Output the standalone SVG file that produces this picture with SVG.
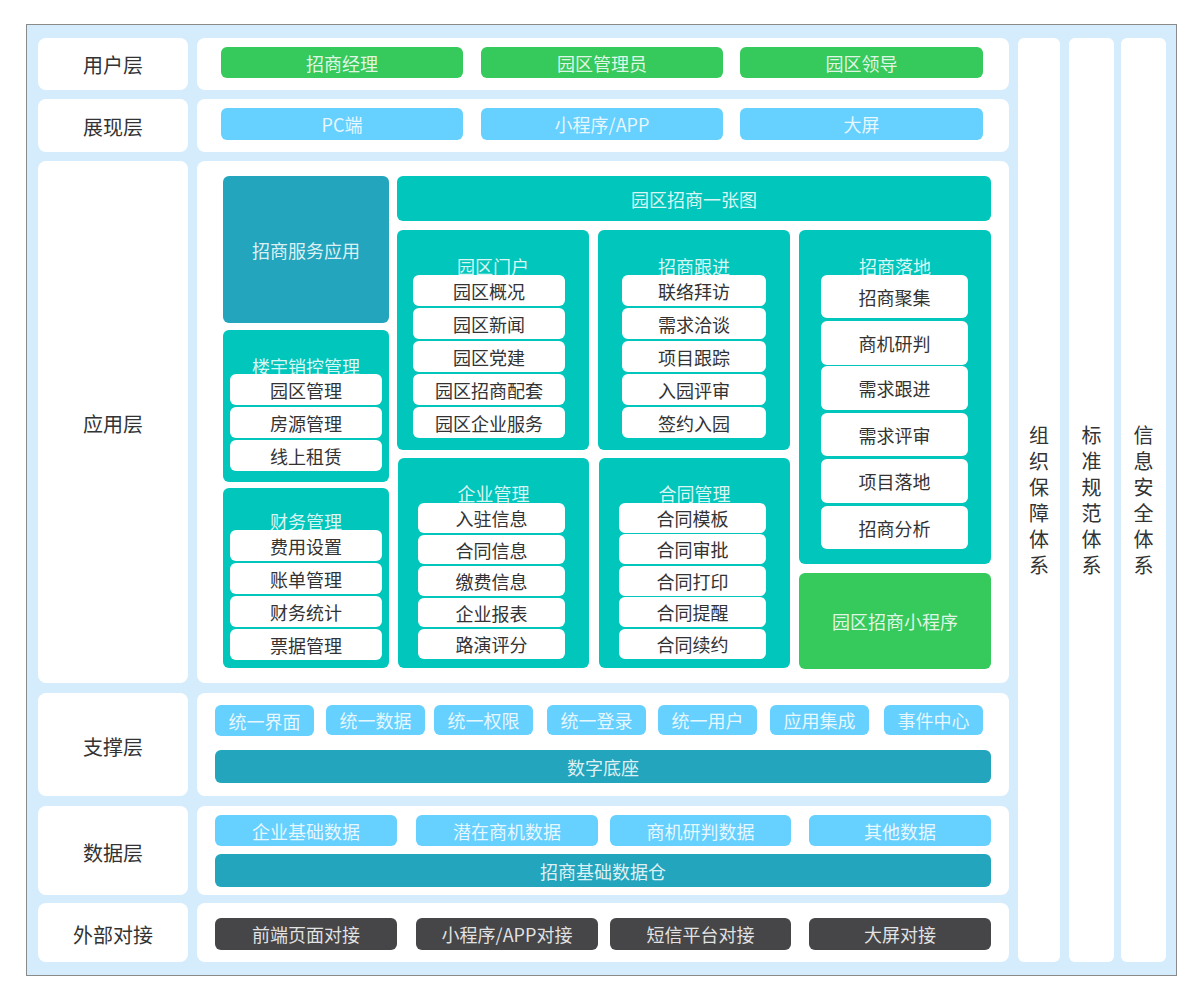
<svg xmlns="http://www.w3.org/2000/svg" width="1204" height="1005" viewBox="0 0 1204 1005" font-family="'Noto Sans CJK SC', 'Microsoft YaHei', sans-serif">
<style>
.bg{fill:#d5ecfd;stroke:#8a8a8a;stroke-width:1}
.pn{fill:#ffffff}
.g{fill:#36c95b}
.b{fill:#66d0fe}
.t{fill:#00c6bc}
.d{fill:#22a5bd}
.k{fill:#464648}
.w{fill:#ffffff}
text{text-anchor:middle;dominant-baseline:central}
.lb{fill:#333333;font-size:20px}
.lt{fill:#ffffff;fill-opacity:0.86;font-size:18px}
.dk{fill:#333333;font-size:18px}
.vt{fill:#333333;font-size:20px;writing-mode:tb;letter-spacing:6px}
</style>
<rect class="bg" x="26.5" y="24.5" width="1150" height="951"/>

<g id="labels">
<g id="lbl-user"><rect class="pn" x="38" y="38" width="150" height="52" rx="8"/><text class="lb" x="113" y="64">用户层</text></g>
<g id="lbl-view"><rect class="pn" x="38" y="99" width="150" height="53" rx="8"/><text class="lb" x="113" y="126">展现层</text></g>
<g id="lbl-app"><rect class="pn" x="38" y="161" width="150" height="522" rx="8"/><text class="lb" x="113" y="423">应用层</text></g>
<g id="lbl-support"><rect class="pn" x="38" y="693" width="150" height="103" rx="8"/><text class="lb" x="113" y="746">支撑层</text></g>
<g id="lbl-data"><rect class="pn" x="38" y="806" width="150" height="89" rx="8"/><text class="lb" x="113" y="852">数据层</text></g>
<g id="lbl-ext"><rect class="pn" x="38" y="903" width="150" height="59" rx="8"/><text class="lb" x="113" y="934">外部对接</text></g>
</g>

<g id="panels">
<rect class="pn" x="197" y="38" width="812" height="52" rx="8"/>
<rect class="pn" x="197" y="99" width="812" height="53" rx="8"/>
<rect class="pn" x="197" y="161" width="812" height="522" rx="8"/>
<rect class="pn" x="197" y="693" width="812" height="103" rx="8"/>
<rect class="pn" x="197" y="806" width="812" height="89" rx="8"/>
<rect class="pn" x="197" y="903" width="812" height="59" rx="8"/>
</g>

<g id="user-layer">
<g id="u1"><rect class="g" x="221" y="47" width="242" height="31" rx="6"/><text class="lt" x="342" y="62.5">招商经理</text></g>
<g id="u2"><rect class="g" x="481" y="47" width="242" height="31" rx="6"/><text class="lt" x="602" y="62.5">园区管理员</text></g>
<g id="u3"><rect class="g" x="740" y="47" width="243" height="31" rx="6"/><text class="lt" x="861.5" y="62.5">园区领导</text></g>
</g>

<g id="view-layer">
<g id="v1"><rect class="b" x="221" y="108" width="242" height="32" rx="6"/><text class="lt" x="342" y="124">PC端</text></g>
<g id="v2"><rect class="b" x="481" y="108" width="242" height="32" rx="6"/><text class="lt" x="602" y="124">小程序/APP</text></g>
<g id="v3"><rect class="b" x="740" y="108" width="243" height="32" rx="6"/><text class="lt" x="861.5" y="124">大屏</text></g>
</g>

<g id="app-layer">
<g id="a-service"><rect class="d" x="223" y="176" width="166" height="147" rx="6"/><text class="lt" x="306" y="249.5">招商服务应用</text></g>
<g id="a-map"><rect class="t" x="397" y="176" width="594" height="45" rx="6"/><text class="lt" x="694" y="198.5">园区招商一张图</text></g>

<g id="a-portal"><rect class="t" x="397" y="230" width="192" height="220" rx="6"/><text class="lt" x="493" y="266">园区门户</text>
<rect class="w" x="413" y="275" width="152" height="31" rx="6"/><text class="dk" x="489" y="290.5">园区概况</text>
<rect class="w" x="413" y="308" width="152" height="31" rx="6"/><text class="dk" x="489" y="323.5">园区新闻</text>
<rect class="w" x="413" y="341" width="152" height="31" rx="6"/><text class="dk" x="489" y="356.5">园区党建</text>
<rect class="w" x="413" y="374" width="152" height="31" rx="6"/><text class="dk" x="489" y="389.5">园区招商配套</text>
<rect class="w" x="413" y="407" width="152" height="31" rx="6"/><text class="dk" x="489" y="422.5">园区企业服务</text>
</g>

<g id="a-follow"><rect class="t" x="598" y="230" width="192" height="220" rx="6"/><text class="lt" x="694" y="266">招商跟进</text>
<rect class="w" x="622" y="275" width="144" height="31" rx="6"/><text class="dk" x="694" y="290.5">联络拜访</text>
<rect class="w" x="622" y="308" width="144" height="31" rx="6"/><text class="dk" x="694" y="323.5">需求洽谈</text>
<rect class="w" x="622" y="341" width="144" height="31" rx="6"/><text class="dk" x="694" y="356.5">项目跟踪</text>
<rect class="w" x="622" y="374" width="144" height="31" rx="6"/><text class="dk" x="694" y="389.5">入园评审</text>
<rect class="w" x="622" y="407" width="144" height="31" rx="6"/><text class="dk" x="694" y="422.5">签约入园</text>
</g>

<g id="a-landing"><rect class="t" x="799" y="230" width="192" height="334" rx="6"/><text class="lt" x="895" y="266">招商落地</text>
<rect class="w" x="821" y="275" width="147" height="43" rx="6"/><text class="dk" x="894.5" y="296.5">招商聚集</text>
<rect class="w" x="821" y="321" width="147" height="44" rx="6"/><text class="dk" x="894.5" y="343">商机研判</text>
<rect class="w" x="821" y="366" width="147" height="44" rx="6"/><text class="dk" x="894.5" y="388">需求跟进</text>
<rect class="w" x="821" y="413" width="147" height="43" rx="6"/><text class="dk" x="894.5" y="434.5">需求评审</text>
<rect class="w" x="821" y="459" width="147" height="44" rx="6"/><text class="dk" x="894.5" y="481">项目落地</text>
<rect class="w" x="821" y="506" width="147" height="43" rx="6"/><text class="dk" x="894.5" y="527.5">招商分析</text>
</g>

<g id="a-building"><rect class="t" x="223" y="330" width="166" height="152" rx="6"/><text class="lt" x="306" y="366">楼宇销控管理</text>
<rect class="w" x="230" y="374" width="152" height="31" rx="6"/><text class="dk" x="306" y="389.5">园区管理</text>
<rect class="w" x="230" y="407" width="152" height="31" rx="6"/><text class="dk" x="306" y="422.5">房源管理</text>
<rect class="w" x="230" y="440" width="152" height="31" rx="6"/><text class="dk" x="306" y="455.5">线上租赁</text>
</g>

<g id="a-finance"><rect class="t" x="223" y="488" width="166" height="180" rx="6"/><text class="lt" x="306" y="521">财务管理</text>
<rect class="w" x="230" y="530" width="152" height="31" rx="6"/><text class="dk" x="306" y="545.5">费用设置</text>
<rect class="w" x="230" y="563" width="152" height="31" rx="6"/><text class="dk" x="306" y="578.5">账单管理</text>
<rect class="w" x="230" y="596" width="152" height="31" rx="6"/><text class="dk" x="306" y="611.5">财务统计</text>
<rect class="w" x="230" y="629" width="152" height="31" rx="6"/><text class="dk" x="306" y="644.5">票据管理</text>
</g>

<g id="a-enterprise"><rect class="t" x="398" y="458" width="191" height="210" rx="6"/><text class="lt" x="493.5" y="493">企业管理</text>
<rect class="w" x="418" y="503" width="147" height="30" rx="6"/><text class="dk" x="491.5" y="518">入驻信息</text>
<rect class="w" x="418" y="535" width="147" height="29" rx="6"/><text class="dk" x="491.5" y="549.5">合同信息</text>
<rect class="w" x="418" y="566" width="147" height="30" rx="6"/><text class="dk" x="491.5" y="581">缴费信息</text>
<rect class="w" x="418" y="598" width="147" height="29" rx="6"/><text class="dk" x="491.5" y="612.5">企业报表</text>
<rect class="w" x="418" y="629" width="147" height="30" rx="6"/><text class="dk" x="491.5" y="644">路演评分</text>
</g>

<g id="a-contract"><rect class="t" x="599" y="458" width="191" height="210" rx="6"/><text class="lt" x="694.5" y="493">合同管理</text>
<rect class="w" x="619" y="503" width="147" height="30" rx="6"/><text class="dk" x="692.5" y="518">合同模板</text>
<rect class="w" x="619" y="534" width="147" height="30" rx="6"/><text class="dk" x="692.5" y="549">合同审批</text>
<rect class="w" x="619" y="566" width="147" height="30" rx="6"/><text class="dk" x="692.5" y="581">合同打印</text>
<rect class="w" x="619" y="597" width="147" height="30" rx="6"/><text class="dk" x="692.5" y="612">合同提醒</text>
<rect class="w" x="619" y="629" width="147" height="30" rx="6"/><text class="dk" x="692.5" y="644">合同续约</text>
</g>

<g id="a-mini"><rect class="g" x="799" y="573" width="192" height="96" rx="6"/><text class="lt" x="895" y="621">园区招商小程序</text></g>
</g>

<g id="support-layer">
<g id="s1"><rect class="b" x="215" y="705" width="99" height="31" rx="6"/><text class="lt" x="264.5" y="720.5">统一界面</text></g>
<g id="s2"><rect class="b" x="326" y="705" width="99" height="30" rx="6"/><text class="lt" x="375.5" y="720">统一数据</text></g>
<g id="s3"><rect class="b" x="434" y="705" width="99" height="30" rx="6"/><text class="lt" x="483.5" y="720">统一权限</text></g>
<g id="s4"><rect class="b" x="547" y="705" width="99" height="30" rx="6"/><text class="lt" x="596.5" y="720">统一登录</text></g>
<g id="s5"><rect class="b" x="658" y="705" width="99" height="30" rx="6"/><text class="lt" x="707.5" y="720">统一用户</text></g>
<g id="s6"><rect class="b" x="770" y="705" width="99" height="30" rx="6"/><text class="lt" x="819.5" y="720">应用集成</text></g>
<g id="s7"><rect class="b" x="884" y="705" width="99" height="30" rx="6"/><text class="lt" x="933.5" y="720">事件中心</text></g>
<g id="s-base"><rect class="d" x="215" y="750" width="776" height="33" rx="6"/><text class="lt" x="603" y="766.5">数字底座</text></g>
</g>

<g id="data-layer">
<g id="d1"><rect class="b" x="215" y="815" width="182" height="31" rx="6"/><text class="lt" x="306" y="830.5">企业基础数据</text></g>
<g id="d2"><rect class="b" x="416" y="815" width="182" height="31" rx="6"/><text class="lt" x="507" y="830.5">潜在商机数据</text></g>
<g id="d3"><rect class="b" x="610" y="815" width="181" height="31" rx="6"/><text class="lt" x="700.5" y="830.5">商机研判数据</text></g>
<g id="d4"><rect class="b" x="809" y="815" width="182" height="31" rx="6"/><text class="lt" x="900" y="830.5">其他数据</text></g>
<g id="d-warehouse"><rect class="d" x="215" y="854" width="776" height="33" rx="6"/><text class="lt" x="603" y="870.5">招商基础数据仓</text></g>
</g>

<g id="ext-layer">
<g id="e1"><rect class="k" x="215" y="918" width="182" height="32" rx="6"/><text class="lt" x="306" y="934">前端页面对接</text></g>
<g id="e2"><rect class="k" x="416" y="918" width="182" height="32" rx="6"/><text class="lt" x="507" y="934">小程序/APP对接</text></g>
<g id="e3"><rect class="k" x="610" y="918" width="181" height="32" rx="6"/><text class="lt" x="700.5" y="934">短信平台对接</text></g>
<g id="e4"><rect class="k" x="809" y="918" width="182" height="32" rx="6"/><text class="lt" x="900" y="934">大屏对接</text></g>
</g>

<g id="side-org"><rect class="pn" x="1018" y="38" width="42" height="924" rx="6"/>
<text class="vt" x="1039" y="503">组织保障体系</text>
</g>
<g id="side-std"><rect class="pn" x="1069" y="38" width="45" height="924" rx="6"/>
<text class="vt" x="1091.5" y="503">标准规范体系</text>
</g>
<g id="side-sec"><rect class="pn" x="1121" y="38" width="45" height="924" rx="6"/>
<text class="vt" x="1143.5" y="503">信息安全体系</text>
</g>

<g id="connectors"/>
</svg>
